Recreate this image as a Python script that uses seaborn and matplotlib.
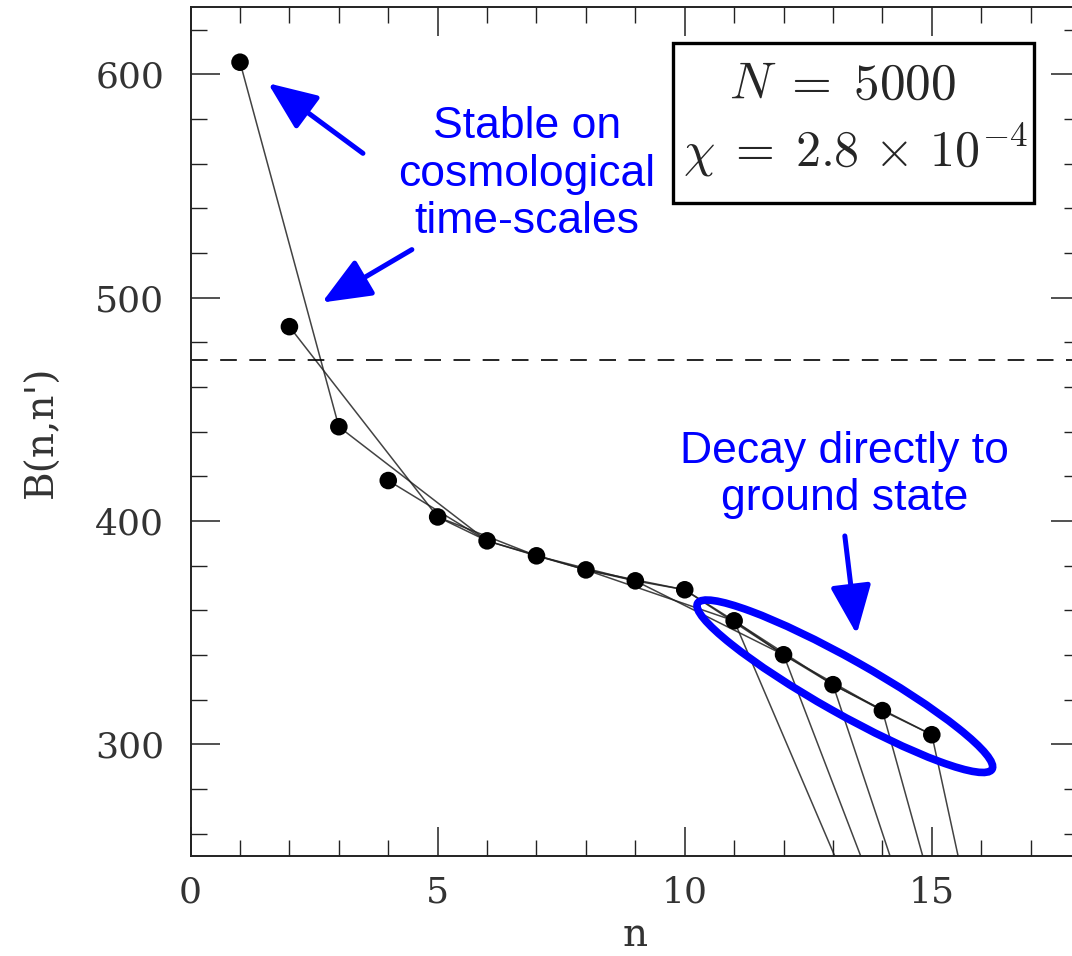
import pandas as pd
import matplotlib.pyplot as plt
import seaborn as sns
from matplotlib.patches import Ellipse, Rectangle
from matplotlib.transforms import ScaledTranslation
from matplotlib.ticker import MultipleLocator

# states and binding energies
n_states = [1, 2, 3, 4, 5, 6, 7, 8, 9, 10, 11, 12, 13, 14, 15]
binding = [605.4, 487.0, 442.2, 418.1, 401.8, 391.1, 384.4, 378.1,
           373.2, 369.2, 355.3, 340.1, 326.7, 315.1, 304.3]

# transitions between states (n -> n')
trans_from = [1, 2, 3, 4, 5, 5, 6, 6, 7, 7, 8, 8, 8, 9, 9, 10, 10,
              11, 11, 12, 12, 13, 13, 14]
trans_to = [3, 5, 6, 6, 6, 7, 7, 8, 8, 9, 9, 10, 11, 10, 12, 11, 12,
            12, 13, 13, 14, 14, 15, 15]

# states that decay directly to the ground state (far below the frame)
ground_decays = [11, 12, 13, 14, 15]
ground_n = 18.1
ground_b = -12.0

stability_line = 472.0

b_of = dict(zip(n_states, binding))
rows = []
for i, (a, b) in enumerate(zip(trans_from, trans_to)):
    rows.append({"edge": i, "n": a, "B": b_of[a]})
    rows.append({"edge": i, "n": b, "B": b_of[b]})
for k, s in enumerate(ground_decays):
    rows.append({"edge": 100 + k, "n": s, "B": b_of[s]})
    rows.append({"edge": 100 + k, "n": ground_n, "B": ground_b})
seg_df = pd.DataFrame(rows)
pts_df = pd.DataFrame({"n": n_states, "B": binding})

sns.set_style("ticks")
plt.rcParams["font.family"] = ["DejaVu Serif"]
plt.rcParams["mathtext.fontset"] = "cm"

fig = plt.figure(figsize=(10.72, 9.56), dpi=100)
ax = fig.add_axes([0.1778, 0.1046, 0.8297, 0.8878])

sns.lineplot(data=seg_df, x="n", y="B", units="edge", estimator=None,
             sort=False, color="#222222", lw=1.1, alpha=0.85, legend=False, ax=ax)
sns.scatterplot(data=pts_df, x="n", y="B", s=160, color="black",
                edgecolor="none", zorder=3, ax=ax)

ax.axhline(stability_line, color="black", lw=1.2, ls=(0, (10, 7.5)))

ax.set_xlim(0, 18)
ax.set_ylim(250, 630)
ax.xaxis.set_major_locator(MultipleLocator(5))
ax.xaxis.set_minor_locator(MultipleLocator(1))
ax.yaxis.set_major_locator(MultipleLocator(100))
ax.yaxis.set_minor_locator(MultipleLocator(20))
ax.tick_params(which="both", direction="in", top=True, right=True,
               colors="#222222", labelcolor="#333333")
ax.tick_params(which="major", length=21, width=1.1, labelsize=26)
ax.tick_params(axis="x", which="major", pad=14)
ax.tick_params(axis="y", which="major", pad=19)
ax.tick_params(which="minor", length=11.5, width=1.0)
for sp in ax.spines.values():
    sp.set_linewidth(1.4)
    sp.set_color("#222222")

ax.set_xlabel("n", fontsize=28, color="#333333")
ax.set_ylabel("B(n,n')", fontsize=28, color="#333333")
ax.xaxis.set_label_coords(0.5, -0.072)
ax.yaxis.set_label_coords(-0.146, 0.5)

# parameter box
ax.add_patch(Rectangle((0.5424, 0.7694), 0.4059, 0.1886, transform=ax.transAxes,
                       fill=True, facecolor="white", edgecolor="black", lw=2.4, zorder=4))
ax.text(0.7335, 0.8922, r"$N\;=\;5000$", transform=ax.transAxes, ha="center",
        va="baseline", fontsize=37, zorder=5)
ax.text(0.7469, 0.8122, r"$\chi\;=\;2.8\,\times\,10^{-4}$", transform=ax.transAxes,
        ha="center", va="baseline", fontsize=36, zorder=5)

# blue annotations
blue = "#0000FF"
sans = ["Liberation Sans", "DejaVu Sans"]
ax.text(6.81, 555.2, "Stable on\ncosmological\ntime-scales", color=blue,
        family=sans, fontsize=32, ha="center", va="center", linespacing=1.2)
ax.text(13.24, 420.6, "Decay directly to\nground state", color=blue,
        family=sans, fontsize=32, ha="center", va="center", linespacing=1.2)

arrow_kw = dict(arrowstyle="-|>,head_length=0.6,head_width=0.25", color=blue,
                lw=3.6, mutation_scale=50, shrinkA=0, shrinkB=0)
ax.annotate("", xy=(1.566, 596.0), xytext=(3.488, 564.6), arrowprops=arrow_kw)
ax.annotate("", xy=(2.658, 497.8), xytext=(4.478, 521.5), arrowprops=arrow_kw)
ax.annotate("", xy=(13.48, 349.3), xytext=(13.24, 393.3), arrowprops=arrow_kw)

# ellipse around the states that decay to the ground state
ell_tr = fig.dpi_scale_trans + ScaledTranslation(13.24, 326.0, ax.transData)
ax.add_patch(Ellipse((0, 0), 3.38, 0.54, angle=-29.4, transform=ell_tr,
                     fill=False, edgecolor=blue, lw=5.5, zorder=4))

fig.savefig("out.png", dpi=100)
